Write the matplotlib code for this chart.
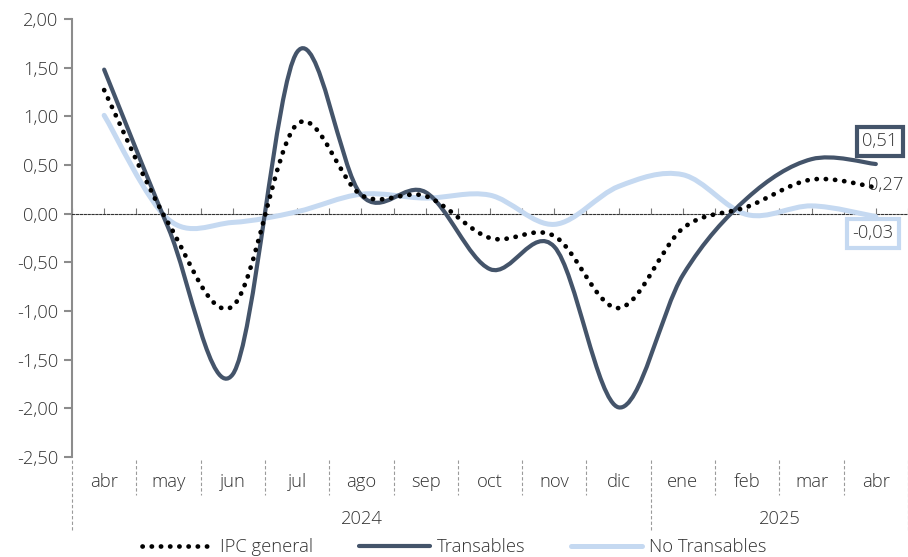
import numpy as np
import matplotlib
matplotlib.use("Agg")
import matplotlib.pyplot as plt
from matplotlib.path import Path
from matplotlib.patches import PathPatch
import matplotlib.transforms as mtransforms


months = ["abr", "may", "jun", "jul", "ago", "sep", "oct", "nov", "dic",
          "ene", "feb", "mar", "abr"]
years = ["2024", "2025"]
year_counts = [9, 4]

ipc_general = [1.27, -0.10, -0.95, 0.92, 0.19, 0.18, -0.25, -0.23, -0.97,
               -0.15, 0.07, 0.35, 0.27]
transables = [1.48, -0.15, -1.65, 1.66, 0.19, 0.22, -0.57, -0.34, -1.99,
              -0.63, 0.16, 0.56, 0.51]
no_transables = [1.01, -0.06, -0.09, 0.02, 0.20, 0.16, 0.19, -0.11, 0.28,
                 0.40, -0.01, 0.08, -0.03]

yticks = [2.0, 1.5, 1.0, 0.5, 0.0, -0.5, -1.0, -1.5, -2.0, -2.5]

DARK = "#44546A"
LIGHT = "#C5D9F1"
TXT = "#333333"
FS = 13.2

plt.rcParams['font.family'] = ['Open Sans', 'DejaVu Sans']
plt.rcParams['font.weight'] = 'light'


# Excel-style smoothed line: cubic Bezier through the points
def smooth_path(x, y):
    p = np.column_stack([x, y]).astype(float)
    n = len(p)
    verts = [p[0]]
    codes = [Path.MOVETO]
    for i in range(n - 1):
        p_prev = p[i - 1] if i > 0 else p[i]
        p_next2 = p[i + 2] if i + 2 < n else p[i + 1]
        c1 = p[i] + (p[i + 1] - p_prev) / 6.0
        c2 = p[i + 1] - (p_next2 - p[i]) / 6.0
        verts += [c1, c2, p[i + 1]]
        codes += [Path.CURVE4] * 3
    return Path(verts, codes)


fig = plt.figure(figsize=(9.08, 5.57), dpi=100)
ax = fig.add_axes([72 / 908, 1 - 457 / 557, 836 / 908, 438 / 557])

x = np.arange(len(months))

styles = [
    (no_transables, dict(color=LIGHT, lw=3.6, capstyle="round")),
    (transables, dict(color=DARK, lw=3.0, capstyle="round")),
    (ipc_general, dict(color="black", lw=3.4, linestyle=(0, (0.05, 1.9)),
                       capstyle="round")),
]
for vals, st in styles:
    patch = PathPatch(smooth_path(x, vals), facecolor="none", edgecolor=st["color"],
                      lw=st["lw"], linestyle=st.get("linestyle", "-"),
                      capstyle=st["capstyle"], joinstyle="round", zorder=3)
    ax.add_patch(patch)

ax.set_xlim(-0.5, len(months) - 0.5)
ax.set_ylim(-2.5, 2.0)

# axes styling
for side in ["top", "right"]:
    ax.spines[side].set_visible(False)
ax.spines["left"].set_color("#8c8c8c")
ax.spines["left"].set_linewidth(1.5)
ax.spines["bottom"].set_position(("data", 0))
ax.spines["bottom"].set_linestyle((0, (2, 1.5)))
ax.spines["bottom"].set_linewidth(0.8)
ax.spines["bottom"].set_color("#333333")

ax.set_yticks(yticks)
ax.set_yticklabels([f"{v:.2f}".replace(".", ",") for v in yticks])
ax.tick_params(axis="y", colors="#8c8c8c", length=6, width=1.5, labelsize=FS,
               labelcolor=TXT, pad=4)

ax.set_xticks(x)
ax.set_xticks(np.arange(-0.5, len(months), 1.0), minor=True)
ax.set_xticklabels([])
ax.tick_params(axis="x", which="both", direction="in", length=4, width=0.8,
               colors="#777777")

# category labels below the plot
trans = mtransforms.blended_transform_factory(ax.transData, ax.transAxes)
for i, m in enumerate(months):
    ax.text(i, -0.057, m, transform=trans, ha="center", va="center",
            fontsize=FS, color=TXT)

start = 0
for yr, cnt in zip(years, year_counts):
    ax.text(start + cnt / 2 - 0.5, -0.142, yr, transform=trans, ha="center",
            va="center", fontsize=FS, color=TXT)
    start += cnt

bounds = np.arange(-0.5, len(months), 1.0)
year_bounds = [-0.5] + list(np.cumsum(year_counts) - 0.5)
for b in bounds:
    low = -0.167 if b in year_bounds else -0.087
    ax.plot([b, b], [-0.007, low], transform=trans, color="#9a9a9a", lw=0.8,
            linestyle=(0, (3, 2)), clip_on=False)

# end labels
ax.annotate("0,51", (x[-1], transables[-1]), xytext=(3, 16.5),
            textcoords="offset points", ha="center", va="center", fontsize=FS,
            color=TXT, bbox=dict(boxstyle="square,pad=0.3", fc="white",
                                 ec=DARK, lw=3), zorder=5, annotation_clip=False)
ax.annotate("0,27", (x[-1], ipc_general[-1]), xytext=(7, 1.5),
            textcoords="offset points", ha="center", va="center", fontsize=FS,
            color=TXT, zorder=5, annotation_clip=False)
ax.annotate("-0,03", (x[-1], no_transables[-1]), xytext=(-2, -12),
            textcoords="offset points", ha="center", va="center", fontsize=FS,
            color=TXT, bbox=dict(boxstyle="square,pad=0.3", fc="white",
                                 ec=LIGHT, lw=3), zorder=5, annotation_clip=False)

# legend
handles = [
    plt.Line2D([], [], color="black", lw=3.4, linestyle=(0, (0.05, 1.9)),
               dash_capstyle="round"),
    plt.Line2D([], [], color=DARK, lw=3.0, solid_capstyle="round"),
    plt.Line2D([], [], color=LIGHT, lw=3.6, solid_capstyle="round"),
]
fig.legend(handles, ["IPC general", "Transables", "No Transables"],
           loc="center", bbox_to_anchor=(0.5, 1 - 547 / 557), ncol=3,
           frameon=False, fontsize=FS, handlelength=3.9, columnspacing=2.5,
           handletextpad=0.35, labelcolor=TXT)

fig.savefig("out.png", dpi=100, facecolor="white")
